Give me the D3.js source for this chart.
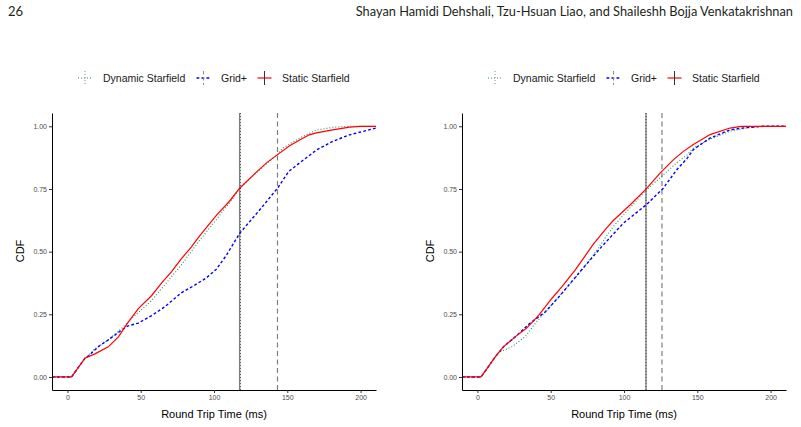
<!DOCTYPE html>
<html>
<head>
<meta charset="utf-8">
<script src="https://cdn.jsdelivr.net/npm/d3@7"></script>
<style>
  body { margin: 0; background: #fff; }
  svg { display: block; }
  .tick text { fill: #4d4d4d; font-family: "Liberation Sans", Arial, sans-serif; font-size: 7px; }
</style>
</head>
<body>
<svg id="chart"></svg>
<script>
var width = 801;
var height = 427;

var seriesNames = ["Dynamic Starfield", "Grid+", "Static Starfield"];
var xTicks = [0, 50, 100, 150, 200];
var yTicks = [0, 0.25, 0.5, 0.75, 1];

// left panel, [rtt ms, cdf]
var leftDynamic = [[-10.5,0],[2.8,0],[12,0.075],[18.8,0.112],[27.9,0.148],[37,0.194],[41.6,0.22],[46.1,0.245],[57.5,0.305],[68.9,0.385],[77.5,0.445],[90.2,0.545],[101.6,0.628],[112.9,0.712],[117.5,0.753],[128.9,0.815],[143.6,0.89],[147,0.913],[158.4,0.953],[169.8,0.985],[181,0.996],[192.5,1],[210.5,1]];
var leftGrid = [[-10.5,0],[2.8,0],[12,0.075],[14.3,0.083],[21.1,0.121],[27.9,0.148],[37,0.187],[41,0.203],[48.4,0.215],[57.5,0.245],[66.5,0.28],[77.5,0.335],[85.6,0.362],[94.8,0.395],[101.6,0.43],[108.4,0.485],[117.5,0.573],[131.1,0.666],[143.6,0.755],[151,0.82],[158.4,0.854],[169.8,0.905],[181,0.94],[192.5,0.966],[210.5,0.993]];
var leftStatic = [[-10.5,0],[2.8,0],[12,0.075],[18.8,0.092],[27.9,0.12],[34.8,0.16],[41.6,0.22],[48.4,0.273],[57.5,0.325],[64.3,0.375],[71.1,0.42],[77.5,0.47],[84.5,0.518],[90.2,0.563],[101.6,0.645],[110.7,0.702],[117.5,0.753],[128.9,0.817],[136,0.855],[143.6,0.888],[151.6,0.922],[158.4,0.945],[165,0.966],[169.8,0.974],[181,0.986],[192.5,0.997],[200,1],[210.5,1]];

// right panel
var rightDynamic = [[-10.5,0],[2.5,0],[12.3,0.081],[14.6,0.098],[23.7,0.121],[32.7,0.161],[39.5,0.214],[48.7,0.274],[57.7,0.334],[66.8,0.394],[77.7,0.475],[92.7,0.6],[106.4,0.69],[115,0.745],[126.8,0.806],[136,0.855],[142.8,0.885],[147.3,0.913],[158.7,0.949],[172.3,0.98],[183.7,0.993],[195,1],[210.5,1]];
var rightGrid = [[-10.5,0],[2.5,0],[12.3,0.081],[17.7,0.12],[26.8,0.165],[35,0.21],[46.4,0.26],[56.4,0.325],[70,0.42],[83.7,0.513],[99.5,0.613],[115,0.686],[126.8,0.753],[136,0.827],[142.8,0.87],[147.3,0.907],[158.7,0.953],[172.3,0.986],[183.7,0.995],[195,1],[210.5,1]];
var rightStatic = [[-10.5,0],[2.5,0],[12.3,0.081],[17.7,0.12],[26.8,0.165],[33.6,0.195],[41.9,0.247],[50.9,0.314],[57.7,0.36],[66.8,0.427],[73.4,0.482],[79.1,0.53],[88.2,0.595],[92.7,0.624],[104.1,0.686],[115,0.749],[124.6,0.813],[133.6,0.866],[140.5,0.9],[147.3,0.927],[158.7,0.967],[172.3,0.993],[180,1],[210.5,1]];

// vertical reference lines (Dynamic, Grid+, Static)
var leftVlines = [118, 143.3, 117.5];
var rightVlines = [115, 125.9, 115];

var colors = ["#2e8b57", "#0000ff", "#ff0000"];
var dashes = ["1,2", "2.8,2.2", null];
var widths = [1.1, 1.4, 1.2];

var svg = d3.select("#chart")
    .attr("width", width)
    .attr("height", height);

// page header
svg.append("text")
  .attr("x", 8).attr("y", 16)
  .style("font-family", "Lato, 'Open Sans', sans-serif")
  .style("font-size", "13px")
  .style("fill", "#231f20")
  .text("26");
svg.append("text")
  .attr("x", 793).attr("y", 16)
  .attr("text-anchor", "end")
  .style("font-family", "Lato, 'Open Sans', sans-serif")
  .style("font-size", "12.8px")
  .style("fill", "#231f20")
  .text("Shayan Hamidi Dehshali, Tzu-Hsuan Liao, and Shaileshh Bojja Venkatakrishnan");

function drawPanel(left, seriesList, vlines) {
  var xScale = d3.scaleLinear().domain([-10.5, 210.5]).range([left, left + 324]);
  var yScale = d3.scaleLinear().domain([-0.052, 1.053]).range([390, 113]);
  var g = svg.append("g");

  var line = d3.line()
    .x(function(d) { return xScale(d[0]); })
    .y(function(d) { return yScale(d[1]); });

  // vlines: solid static, dotted dynamic on top, dashed grid
  g.append("line")
    .attr("x1", xScale(vlines[2])).attr("x2", xScale(vlines[2]))
    .attr("y1", 113).attr("y2", 390)
    .attr("stroke", "#7f7f7f").attr("stroke-width", 1.4);
  g.append("line")
    .attr("x1", xScale(vlines[1])).attr("x2", xScale(vlines[1]))
    .attr("y1", 113).attr("y2", 390)
    .attr("stroke", "#7f7f7f").attr("stroke-width", 1.2)
    .attr("stroke-dasharray", "5,3.5");

  // the curves
  seriesList.forEach(function(data, i) {
    g.append("path")
      .datum(data)
      .attr("d", line)
      .attr("fill", "none")
      .attr("stroke", colors[i])
      .attr("stroke-width", widths[i])
      .attr("stroke-dasharray", dashes[i]);
  });

  g.append("line")
    .attr("x1", xScale(vlines[0])).attr("x2", xScale(vlines[0]))
    .attr("y1", 113).attr("y2", 390)
    .attr("stroke", "#444").attr("stroke-width", 0.9)
    .attr("stroke-dasharray", "1,2");

  // axes
  var xAxis = g.append("g")
    .attr("transform", "translate(0,390)")
    .call(d3.axisBottom(xScale).tickValues(xTicks).tickSize(3).tickPadding(2).tickSizeOuter(0));
  var yAxis = g.append("g")
    .attr("transform", "translate(" + left + ",0)")
    .call(d3.axisLeft(yScale).tickValues(yTicks).tickFormat(d3.format(".2f")).tickSize(3).tickPadding(2).tickSizeOuter(0));
  [xAxis, yAxis].forEach(function(a) {
    a.select(".domain").attr("stroke", "#000").attr("stroke-width", 1);
    a.selectAll(".tick line").attr("stroke", "#333");
  });

  g.append("text")
    .attr("x", left + 162).attr("y", 418)
    .attr("text-anchor", "middle")
    .style("font-family", "'Liberation Sans', Arial, sans-serif")
    .style("font-size", "11px")
    .text("Round Trip Time (ms)");
  g.append("text")
    .attr("transform", "translate(" + (left - 28) + ",251) rotate(-90)")
    .attr("text-anchor", "middle")
    .style("font-family", "'Liberation Sans', Arial, sans-serif")
    .style("font-size", "11px")
    .text("CDF");

  // legend
  var keyX = [85, 203.5, 264.5];
  var txtX = [103, 221, 282];
  seriesNames.forEach(function(name, i) {
    var kx = keyX[i] + (left - 52);
    g.append("line")
      .attr("x1", kx - 7).attr("x2", kx + 7)
      .attr("y1", 78).attr("y2", 78)
      .attr("stroke", colors[i]).attr("stroke-width", widths[i])
      .attr("stroke-dasharray", dashes[i]);
    g.append("line")
      .attr("x1", kx).attr("x2", kx)
      .attr("y1", 71).attr("y2", 85)
      .attr("stroke", i == 2 ? "#333" : "#888").attr("stroke-width", 1)
      .attr("stroke-dasharray", i == 0 ? "1,2" : (i == 1 ? "3.5,2.5" : null));
    g.append("text")
      .attr("x", txtX[i] + (left - 52)).attr("y", 81.5)
      .style("font-family", "'Liberation Sans', Arial, sans-serif")
      .style("font-size", "10.5px")
      .style("fill", "#1a1a1a")
      .text(name);
  });
}

drawPanel(52, [leftDynamic, leftGrid, leftStatic], leftVlines);
drawPanel(462, [rightDynamic, rightGrid, rightStatic], rightVlines);
</script>
</body>
</html>
